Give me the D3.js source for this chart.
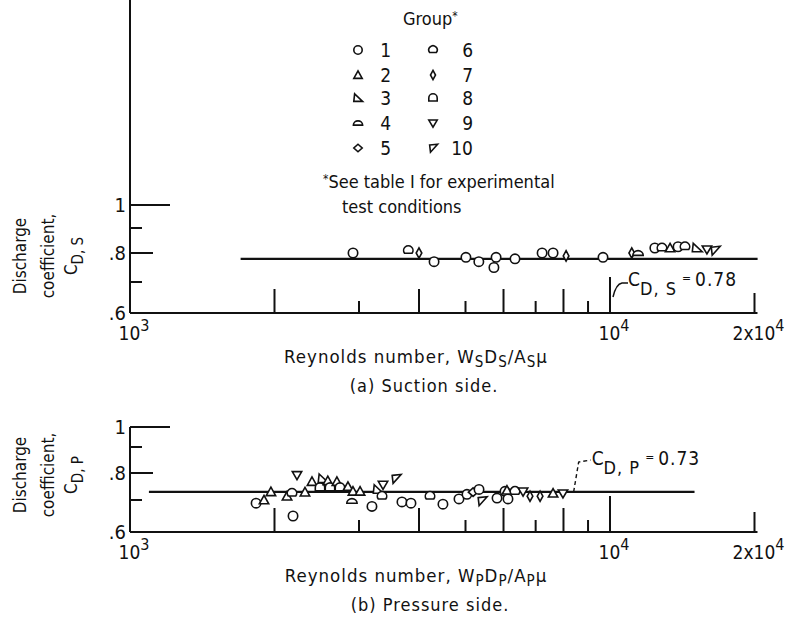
<!DOCTYPE html>
<html>
<head>
<meta charset="utf-8">
<script src="https://cdn.jsdelivr.net/npm/d3@7/dist/d3.min.js"></script>
<style>
  body { margin: 0; background: #fff; }
  svg { display: block; }
  text { font-family: "DejaVu Sans Condensed", "Liberation Sans Narrow", sans-serif; fill: #111; }
</style>
</head>
<body>
<svg id="chart" width="790" height="633"></svg>
<script>
// groups 1..10 (see table I)
var groups = [1, 2, 3, 4, 5, 6, 7, 8, 9, 10];

// (a) suction side
var suctionRe    = [2915, 3800, 4000, 4300, 5010, 5330, 5730, 5790, 6340, 7220, 7610, 8100, 9670, 11100, 11440, 12400, 12830, 13340, 13860, 14330, 15180, 15920, 16550];
var suctionCd    = [0.80, 0.81, 0.80, 0.77, 0.785, 0.77, 0.75, 0.785, 0.78, 0.80, 0.80, 0.79, 0.785, 0.80, 0.80, 0.82, 0.82, 0.82, 0.825, 0.825, 0.82, 0.815, 0.81];
var suctionGroup = [1, 6, 7, 1, 1, 1, 1, 1, 1, 1, 1, 7, 1, 7, 4, 1, 6, 2, 1, 6, 3, 9, 10];

// (b) pressure side
var pressureRe    = [1831, 1902, 1966, 2124, 2175, 2186, 2228, 2315, 2394, 2488, 2523, 2583, 2610, 2698, 2738, 2845, 2900, 2914, 3015, 3192, 3286, 3350, 3366, 3581, 3686, 3849, 4217, 4487, 4846, 5035, 5185, 5335, 5410, 5816, 6043, 6130, 6100, 6340, 6590, 6813, 7150, 7610, 7980];
var pressureCd    = [0.69, 0.70, 0.73, 0.714, 0.725, 0.65, 0.793, 0.729, 0.768, 0.746, 0.779, 0.771, 0.746, 0.768, 0.746, 0.75, 0.697, 0.732, 0.732, 0.68, 0.739, 0.714, 0.757, 0.779, 0.694, 0.69, 0.714, 0.687, 0.704, 0.721, 0.729, 0.739, 0.697, 0.707, 0.732, 0.704, 0.736, 0.732, 0.732, 0.714, 0.714, 0.725, 0.725];
var pressureGroup = [1, 2, 2, 2, 6, 1, 9, 2, 2, 8, 3, 2, 8, 2, 8, 2, 4, 2, 2, 1, 3, 6, 9, 10, 1, 1, 6, 1, 1, 1, 5, 1, 10, 1, 1, 1, 2, 6, 9, 7, 7, 2, 9];

// mean lines
var suctionMean  = {cd: 0.78, from: 1700, to: 20300};
var pressureMean = {cd: 0.73, from: 1095, to: 15000};

// axes
var xTickVals = [2000, 3000, 4000, 5000, 6000, 7000, 8000, 9000, 10000, 20000];
var xTickLen  = [24, 12, 24, 12, 24, 12, 24, 12, 36, 20];
var yTickVals = [0.7, 0.8, 0.9, 1.0];
var yTickLen  = [12, 23, 12, 40];
var yTickLabels = [{v: 0.6, t: ".6"}, {v: 0.8, t: ".8"}, {v: 1.0, t: "1"}];

var svg = d3.select("#chart");

var x = d3.scaleLog().domain([1000, 20000]).range([130, 130 + 480 * Math.log10(20)]);

// scanned figure: y spacing is not even, so use a piecewise scale
var yTop = d3.scaleLinear().domain([0.6, 0.7, 0.8, 0.9, 1.0]).range([313, 282, 253, 228, 205]);
var yBot = d3.scaleLinear().domain([0.6, 0.7, 0.8, 0.9, 1.0]).range([532, 500, 473, 447, 427]);

function symbolPath(g, r) {
  switch (g) {
    case 1: return "M" + r + ",0A" + r + "," + r + " 0 1,1 " + (-r) + ",0A" + r + "," + r + " 0 1,1 " + r + ",0Z";
    case 2: return "M0," + (-r) + "L" + r + "," + (0.8 * r) + "L" + (-r) + "," + (0.8 * r) + "Z";
    case 3: return "M" + (-0.8 * r) + "," + (-r) + "L" + (1.1 * r) + "," + (0.8 * r) + "L" + (-r) + "," + (0.8 * r) + "Z";
    case 4: return "M" + (-1.1 * r) + "," + (0.5 * r) + "A" + (1.1 * r) + "," + r + " 0 0,1 " + (1.1 * r) + "," + (0.5 * r) + "Z";
    case 5: return "M0," + (-0.9 * r) + "L" + r + ",0L0," + (0.9 * r) + "L" + (-r) + ",0Z";
    case 6: return "M" + (-0.8 * r) + "," + (0.6 * r) + "A" + r + "," + r + " 0 1,1 " + (0.8 * r) + "," + (0.6 * r) + "Z";
    case 7: return "M0," + (-1.1 * r) + "L" + (0.6 * r) + ",0L0," + (1.1 * r) + "L" + (-0.6 * r) + ",0Z";
    case 8: return "M" + (-r) + "," + (0.7 * r) + "L" + (-r) + ",0A" + r + "," + r + " 0 0,1 " + r + ",0L" + r + "," + (0.7 * r) + "Z";
    case 9: return "M" + (-r) + "," + (-0.7 * r) + "L" + r + "," + (-0.7 * r) + "L0," + r + "Z";
    case 10: return "M" + (-0.8 * r) + "," + (-0.7 * r) + "L" + (1.1 * r) + "," + (-0.9 * r) + "L" + (-0.6 * r) + "," + r + "Z";
  }
}

function drawPanel(yScale, axisTop, re, cd, grp, mean) {
  var g = svg.append("g");
  var y0 = yScale(0.6);

  // y axis
  g.append("line").attr("x1", x(1000)).attr("x2", x(1000))
    .attr("y1", axisTop).attr("y2", y0)
    .attr("stroke", "#111").attr("stroke-width", 2);
  g.selectAll(".yt").data(yTickVals).enter().append("line")
    .attr("x1", x(1000)).attr("x2", function(d, i) { return x(1000) + yTickLen[i]; })
    .attr("y1", function(d) { return yScale(d); }).attr("y2", function(d) { return yScale(d); })
    .attr("stroke", "#111").attr("stroke-width", 2);
  g.selectAll(".yl").data(yTickLabels).enter().append("text")
    .attr("x", x(1000) - 4).attr("y", function(d) { return yScale(d.v) + 7; })
    .attr("text-anchor", "end").attr("font-size", 20)
    .text(function(d) { return d.t; });

  // x axis
  g.append("line").attr("x1", x(1000)).attr("x2", x(20000) + 3)
    .attr("y1", y0).attr("y2", y0)
    .attr("stroke", "#111").attr("stroke-width", 2);
  g.selectAll(".xt").data(xTickVals).enter().append("line")
    .attr("x1", function(d) { return x(d); }).attr("x2", function(d) { return x(d); })
    .attr("y1", y0).attr("y2", function(d, i) { return y0 - xTickLen[i]; })
    .attr("stroke", "#111").attr("stroke-width", 2);

  // tick labels 10^3, 10^4, 2x10^4
  var lab = [{v: 1000, pre: "10", sup: "3"}, {v: 10000, pre: "10", sup: "4"}, {v: 20000, pre: "2x10", sup: "4"}];
  lab.forEach(function(d) {
    var t = g.append("text").attr("x", x(d.v) + 4).attr("y", y0 + 27)
      .attr("text-anchor", "middle").attr("font-size", 19);
    t.append("tspan").text(d.pre);
    t.append("tspan").attr("dy", -9).attr("font-size", 16).text(d.sup);
  });

  // mean line
  g.append("line").attr("x1", x(mean.from)).attr("x2", x(mean.to))
    .attr("y1", yScale(mean.cd)).attr("y2", yScale(mean.cd))
    .attr("stroke", "#111").attr("stroke-width", 2.2);

  // data
  g.selectAll(".pt").data(re).enter().append("path")
    .attr("transform", function(d, i) { return "translate(" + x(d) + "," + yScale(cd[i]) + ")"; })
    .attr("d", function(d, i) { return symbolPath(grp[i], 4.7); })
    .attr("fill", "#fff").attr("stroke", "#111").attr("stroke-width", 1.6);

  return g;
}

function yTitle(cy, sub) {
  var g = svg.append("g").attr("font-size", 17);
  g.append("text").attr("transform", "translate(26," + cy + ") rotate(-90)")
    .attr("text-anchor", "middle").text("Discharge");
  g.append("text").attr("transform", "translate(54," + cy + ") rotate(-90)")
    .attr("text-anchor", "middle").text("coefficient,");
  var t = g.append("text").attr("transform", "translate(77," + cy + ") rotate(-90)")
    .attr("text-anchor", "middle");
  t.append("tspan").text("C");
  t.append("tspan").attr("dy", 6).attr("font-size", 15).text("D, " + sub);
}

function xTitle(cy, sub) {
  var t = svg.append("text").attr("x", 416).attr("y", cy)
    .attr("text-anchor", "middle").attr("font-size", 18.5).attr("letter-spacing", 1);
  t.append("tspan").text("Reynolds number, W");
  t.append("tspan").attr("dy", 4).attr("font-size", 15).text(sub);
  t.append("tspan").attr("dy", -4).text("D");
  t.append("tspan").attr("dy", 4).attr("font-size", 15).text(sub);
  t.append("tspan").attr("dy", -4).text("/A");
  t.append("tspan").attr("dy", 4).attr("font-size", 15).text(sub);
  t.append("tspan").attr("dy", -4).text("\u03bc");
}

drawPanel(yTop, 0, suctionRe, suctionCd, suctionGroup, suctionMean);
drawPanel(yBot, yBot(1.0), pressureRe, pressureCd, pressureGroup, pressureMean);

yTitle(256, "S");
yTitle(475, "P");
xTitle(363, "S");
xTitle(582, "P");

svg.append("text").attr("x", 424).attr("y", 392).attr("text-anchor", "middle")
  .attr("font-size", 18).attr("letter-spacing", 1).text("(a) Suction side.");
svg.append("text").attr("x", 430).attr("y", 611).attr("text-anchor", "middle")
  .attr("font-size", 18).attr("letter-spacing", 1).text("(b) Pressure side.");

// annotations
svg.append("path")
  .attr("d", "M" + (x(10000) + 3) + "," + (yTop(0.7) + 15) + " Q" + (x(10000) + 6) + "," + (yTop(0.7) + 2) + " " + (x(10000) + 12) + "," + (yTop(0.7) + 1) + " L" + (x(10000) + 18) + "," + (yTop(0.7) + 1))
  .attr("fill", "none").attr("stroke", "#111").attr("stroke-width", 1.5);
var tS = svg.append("text").attr("x", x(10000) + 18).attr("y", yTop(0.7) + 4).attr("font-size", 19);
tS.append("tspan").text("C");
tS.append("tspan").attr("dy", 9).attr("font-size", 18).attr("letter-spacing", 1).text("D, S");
tS.append("tspan").attr("dy", -13).attr("dx", 5).attr("font-size", 12).text("=");
tS.append("tspan").attr("dy", 4).attr("dx", 4).attr("letter-spacing", 1).text("0.78");

var leadRe = 8400;
svg.append("path")
  .attr("d", "M" + x(leadRe) + "," + yBot(0.73) + " L" + (x(leadRe) + 5) + "," + (yBot(0.8) - 11) + " L" + (x(leadRe) + 17) + "," + (yBot(0.8) - 13))
  .attr("fill", "none").attr("stroke", "#111").attr("stroke-width", 1.4).attr("stroke-dasharray", "4,3");
var tP = svg.append("text").attr("x", x(leadRe) + 18).attr("y", yBot(0.8) - 8).attr("font-size", 19);
tP.append("tspan").text("C");
tP.append("tspan").attr("dy", 9).attr("font-size", 18).attr("letter-spacing", 1).text("D, P");
tP.append("tspan").attr("dy", -13).attr("dx", 5).attr("font-size", 12).text("=");
tP.append("tspan").attr("dy", 4).attr("dx", 4).attr("letter-spacing", 1).text("0.73");

// legend
var leg = svg.append("g");
var gt = leg.append("text").attr("x", 403).attr("y", 25).attr("font-size", 18);
gt.append("tspan").text("Group");
gt.append("tspan").attr("dy", -5).attr("font-size", 12).text("*");
var legRows = [50, 75, 98, 123, 148];
groups.forEach(function(grp, i) {
  var col = i < 5 ? 0 : 1, row = i % 5;
  var sx = col === 0 ? 358 : 433, nx = col === 0 ? 391 : 473;
  leg.append("path").attr("transform", "translate(" + sx + "," + legRows[row] + ")")
    .attr("d", symbolPath(grp, 4.2))
    .attr("fill", "#fff").attr("stroke", "#111").attr("stroke-width", 1.6);
  leg.append("text").attr("x", nx).attr("y", legRows[row] + 7)
    .attr("text-anchor", "end").attr("font-size", 19).text(grp);
});
var note = leg.append("text").attr("x", 323).attr("y", 188).attr("font-size", 18);
note.append("tspan").attr("font-size", 12).attr("dy", -5).text("*");
note.append("tspan").attr("dy", 5).text("See table I for experimental");
leg.append("text").attr("x", 342).attr("y", 213).attr("font-size", 18).text("test conditions");
</script>
</body>
</html>
